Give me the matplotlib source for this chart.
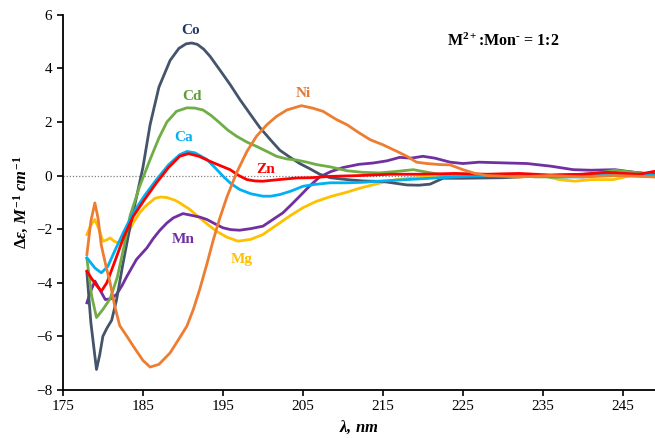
import numpy as np
import matplotlib
matplotlib.use("Agg")
import matplotlib.pyplot as plt

plt.rcParams['font.family'] = ['Liberation Serif', 'DejaVu Serif']
plt.rcParams['mathtext.fontset'] = 'custom'
plt.rcParams['mathtext.rm'] = 'Liberation Serif:bold'
plt.rcParams['mathtext.it'] = 'Liberation Serif:bold:italic'
plt.rcParams['mathtext.bf'] = 'Liberation Serif:bold'

# CD spectra, wavelength (nm) vs delta epsilon
co_wl = [178, 178.5, 179.2, 179.6, 180.0, 180.5, 181.1, 181.7, 182.5, 183.4, 184.2, 185.0, 185.9,
         187.0, 188.4, 189.5, 190.4, 191.1, 191.8, 192.6, 193.4, 194.6, 195.9, 197.1, 198.4, 199.6,
         200.9, 202.1, 203.4, 204.6, 205.9, 207.1, 208.4, 210.5, 212.5, 215, 218, 219.5, 220.9,
         222.5, 225, 230, 235, 240, 245, 249]
co_de = [-3.6, -5.5, -7.24, -6.7, -6.0, -5.7, -5.4, -4.65, -3.3, -1.9, -0.8, 0.3, 1.9,
         3.3, 4.3, 4.75, 4.92, 4.95, 4.9, 4.72, 4.45, 3.95, 3.4, 2.85, 2.3, 1.8,
         1.35, 0.95, 0.68, 0.45, 0.25, 0.05, -0.08, -0.15, -0.2, -0.22, -0.35, -0.36, -0.32,
         -0.1, -0.1, -0.08, 0.0, 0.05, 0.15, 0.05]

cd_wl = [178, 178.6, 179.2, 180.0, 180.9, 181.8, 182.6, 183.4, 184.6, 185.9, 187.0, 188.0, 189.2,
         190.5, 191.5, 192.5, 193.5, 194.6, 195.6, 196.7, 198.0, 199.2, 200.5, 201.7, 203, 204.2,
         205.5, 206.7, 208.5, 210.5, 212.5, 214.6, 216.5, 218.8, 221, 223, 226, 230, 234, 238,
         241, 244, 247, 249]
cd_de = [-3.1, -4.5, -5.3, -5.0, -4.6, -3.8, -2.7, -1.5, -0.4, 0.6, 1.4, 2.0, 2.4,
         2.53, 2.52, 2.45, 2.25, 1.97, 1.7, 1.47, 1.25, 1.09, 0.9, 0.72, 0.62, 0.58,
         0.5, 0.41, 0.32, 0.18, 0.12, 0.1, 0.15, 0.22, 0.1, 0.0, 0.02, 0.05, -0.05, -0.05,
         0.05, 0.2, 0.1, 0.0]

ca_wl = [178, 179.0, 179.8, 180.6, 181.5, 182.6, 183.8, 185.2, 186.7, 188.2, 189.6, 190.5, 191.5,
         193.0, 194.0, 195.0, 196.0, 197.1, 198.5, 200, 201, 202.1, 203.5, 205, 206.5, 208.4,
         210.5, 212.5, 215, 218, 222, 226, 230, 233, 236, 240, 244, 249]
ca_de = [-3.07, -3.45, -3.63, -3.4, -2.8, -2.1, -1.39, -0.75, -0.15, 0.4, 0.78, 0.9, 0.85,
         0.6, 0.3, -0.02, -0.3, -0.52, -0.68, -0.77, -0.77, -0.71, -0.58, -0.4, -0.33, -0.27,
         -0.27, -0.25, -0.2, -0.15, -0.08, -0.02, 0.0, 0.03, -0.05, -0.05, 0.05, 0.0]

zn_wl = [178, 178.6, 179.2, 179.8, 180.5, 181.5, 182.6, 183.8, 185.2, 186.7, 188.2, 189.6, 190.7,
         192.0, 193.4, 194.6, 195.9, 197.0, 198.0, 199, 200, 202, 204.2, 206, 208.4, 212, 216,
         220, 224, 228, 232, 236, 240, 243, 245, 247, 249]
zn_de = [-3.57, -3.85, -4.1, -4.32, -4.0, -3.2, -2.3, -1.52, -0.9, -0.27, 0.3, 0.72, 0.82,
         0.72, 0.53, 0.38, 0.22, 0.0, -0.15, -0.2, -0.21, -0.15, -0.09, -0.08, -0.03, 0.0, 0.05,
         0.05, 0.08, 0.05, 0.08, 0.02, 0.05, 0.12, 0.08, 0.05, 0.16]

ni_wl = [178, 178.5, 179.0, 179.4, 179.8, 180.4, 180.9, 181.5, 182.1, 183.0, 183.8, 185.0, 185.9,
         187.0, 188.4, 189.5, 190.5, 191.3, 192.1, 193.0, 193.8, 194.6, 195.5, 196.7, 198.0,
         199.2, 200.5, 201.7, 203.0, 204.8, 206.2, 207.5, 209.2, 210.5, 212.0, 213.4, 215.0,
         216.7, 218.0, 219.2, 220.5, 222.1, 223.4, 225.0, 226.5, 228, 232, 236, 240, 244, 249]
ni_de = [-2.95, -1.7, -1.02, -1.6, -2.6, -3.4, -4.0, -4.9, -5.6, -6.0, -6.37, -6.9, -7.15,
         -7.05, -6.62, -6.1, -5.62, -5.0, -4.25, -3.3, -2.4, -1.6, -0.8, 0.1, 0.9,
         1.47, 1.9, 2.21, 2.45, 2.61, 2.52, 2.4, 2.09, 1.9, 1.6, 1.34, 1.15,
         0.91, 0.72, 0.5, 0.45, 0.41, 0.4, 0.22, 0.08, 0.0, -0.05, 0.0, -0.05, 0.0, -0.05]

mg_wl = [178, 178.5, 179.0, 179.5, 180.0, 180.5, 180.9, 181.4, 181.9, 182.5, 183.0, 183.8, 184.6,
         185.3, 185.9, 186.5, 187.2, 188.0, 189.0, 189.6, 190.8, 192.1, 193.2, 194.2, 195.5,
         196.9, 198.5, 200.0, 201.7, 203.4, 205.0, 206.7, 208.5, 210.5, 212, 213.8, 215.5,
         216.7, 218.5, 220.9, 224, 228, 232, 235, 237, 239, 241, 243.8, 246, 249]
mg_de = [-2.2, -1.85, -1.64, -2.0, -2.45, -2.4, -2.33, -2.45, -2.51, -2.4, -2.26, -1.75, -1.39,
         -1.15, -1.0, -0.85, -0.8, -0.82, -0.92, -1.02, -1.25, -1.58, -1.85, -2.08, -2.3,
         -2.45, -2.38, -2.2, -1.85, -1.5, -1.2, -0.96, -0.78, -0.62, -0.48, -0.34, -0.22,
         -0.15, -0.1, -0.05, 0.0, -0.05, -0.05, 0.0, -0.15, -0.21, -0.15, -0.15, 0.0, -0.05]

mn_wl = [178, 178.5, 179.0, 179.6, 180.3, 181.0, 181.7, 182.4, 183.0, 184.2, 185.5, 186.3, 187.1,
         188.0, 188.8, 190.0, 191.0, 192.1, 193.0, 194.0, 195.0, 196.0, 197.1, 198.5, 200.0,
         201.2, 202.5, 203.5, 204.6, 205.8, 207.1, 208.5, 210.0, 212, 213.8, 215.5, 217.1,
         218.5, 220.0, 221.5, 223.4, 225, 227, 230.5, 233, 236, 238.8, 241, 244, 246.5, 248.8]
mn_de = [-4.75, -4.3, -3.94, -4.25, -4.63, -4.6, -4.44, -4.1, -3.76, -3.13, -2.7, -2.35, -2.05,
         -1.77, -1.58, -1.42, -1.48, -1.55, -1.64, -1.8, -1.95, -2.02, -2.04, -1.98, -1.89,
         -1.65, -1.39, -1.1, -0.77, -0.4, -0.05, 0.15, 0.3, 0.42, 0.47, 0.55, 0.68,
         0.65, 0.72, 0.65, 0.5, 0.45, 0.5, 0.47, 0.45, 0.35, 0.22, 0.2, 0.22, 0.12, 0.04]

fig = plt.figure(figsize=(6.55, 4.38), dpi=100)
ax = fig.add_axes([0.096, 0.11, 0.904, 0.856])

ax.axhline(0, color='#808080', lw=0.9, ls=(0, (1, 1.5)), zorder=1)

lw = 2.0
ax.plot(mg_wl, mg_de, color='#FFC000', lw=lw)
ax.plot(mn_wl, mn_de, color='#7030A0', lw=lw)
ax.plot(co_wl, co_de, color='#44546A', lw=lw)
ax.plot(cd_wl, cd_de, color='#70AD47', lw=lw)
ax.plot(ca_wl, ca_de, color='#00B0F0', lw=lw)
ax.plot(zn_wl, zn_de, color='#FF0000', lw=lw)
ax.plot(ni_wl, ni_de, color='#ED7D31', lw=lw)

# curve labels
lab = dict(fontsize=11, fontweight='bold', ha='center', va='center')
ax.text(191.0, 5.4, 'Co', color='#1F3864', **lab)
ax.text(191.1, 2.95, 'Cd', color='#5E9A3A', **lab)
ax.text(190.1, 1.42, 'Ca', color='#00B0F0', **lab)
ax.text(200.3, 0.22, 'Zn', color='#FF0000', **lab)
ax.text(205.0, 3.06, 'Ni', color='#DE7A36', **lab)
ax.text(190.0, -2.39, 'Mn', color='#7030A0', **lab)
ax.text(197.3, -3.13, 'Mg', color='#FFC000', **lab)
ax.text(230.0, 5.0, r'M$^{\mathbf{2+}}$:Mon$^{\text{-}}$ = 1:2', fontsize=11.5,
        fontweight='bold', ha='center', va='center')

ax.set_xlim(175, 249)
ax.set_ylim(-8, 6)
ax.set_xticks(np.arange(175, 250, 10))
ax.set_yticks(np.arange(-8, 7, 2))
ax.tick_params(direction='out', length=4, width=1.2, labelsize=11)
ax.spines['top'].set_visible(False)
ax.spines['right'].set_visible(False)
ax.spines['left'].set_linewidth(1.3)
ax.spines['bottom'].set_linewidth(1.3)

ax.set_xlabel(r'$\lambda$, $nm$', fontsize=12, fontstyle='italic', fontweight='bold')
ax.set_ylabel(r'$\Delta\varepsilon$, $M^{-1}$ $cm^{-1}$', fontsize=12, fontstyle='italic',
              fontweight='bold', labelpad=4)

fig.savefig('out.png', dpi=100)
